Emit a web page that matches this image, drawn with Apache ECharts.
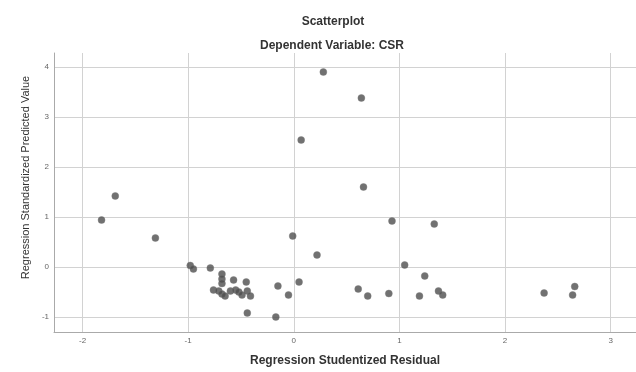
<!DOCTYPE html>
<html>
<head>
<meta charset="utf-8">
<script src="https://cdn.jsdelivr.net/npm/echarts@6/dist/echarts.min.js"></script>
<style>
  html, body { margin: 0; padding: 0; background: #fff; }
  #chart { width: 636px; height: 372px; }
</style>
</head>
<body>
<div id="chart"></div>
<script>
// Regression Studentized Residual (x) vs Standardized Predicted Value (y)
const residual = [
  -1.82, -1.69, -1.31, -0.98, -0.95, -0.79, -0.68, -0.68, -0.68, -0.57,
  -0.45, -0.76, -0.71, -0.68, -0.65, -0.60, -0.55, -0.52, -0.49, -0.44,
  -0.41, -0.44, -0.17, -0.15, -0.05, 0.05, -0.01, 0.07, 0.22, 0.28,
  0.64, 0.66, 0.93, 1.33, 1.05, 1.24, 0.61, 0.70, 0.90, 1.19,
  1.37, 1.41, 2.37, 2.64, 2.66
];
const predicted = [
  0.94, 1.42, 0.58, 0.03, -0.04, -0.02, -0.14, -0.24, -0.33, -0.26,
  -0.30, -0.46, -0.48, -0.54, -0.58, -0.48, -0.46, -0.50, -0.56, -0.48,
  -0.58, -0.92, -1.00, -0.38, -0.56, -0.30, 0.62, 2.54, 0.24, 3.90,
  3.38, 1.60, 0.92, 0.86, 0.04, -0.18, -0.44, -0.58, -0.53, -0.58,
  -0.48, -0.56, -0.52, -0.56, -0.39
];
const titleText = 'Scatterplot';
const subtitleText = 'Dependent Variable: CSR';
const xName = 'Regression Studentized Residual';
const yName = 'Regression Standardized Predicted Value';

const points = residual.map((r, i) => [r, predicted[i]]);

const chart = echarts.init(document.getElementById('chart'));
const gridLine = { show: true, showMaxLine: false, lineStyle: { color: '#d2d2d2', width: 1 } };
const tickLabel = { fontSize: 8, color: '#666', fontFamily: 'Liberation Sans' };
const titleStyle = { fontSize: 12, fontWeight: 'bold', color: '#333', fontFamily: 'Liberation Sans' };

chart.setOption({
  animation: false,
  title: [
    { text: titleText, left: 328, top: 11, textAlign: 'center', textStyle: titleStyle },
    { text: subtitleText, left: 327, top: 35, textAlign: 'center', textStyle: titleStyle }
  ],
  grid: { left: 54, right: 0, top: 53, bottom: 38 },
  xAxis: {
    type: 'value',
    min: -2.27, max: 3.24,
    splitNumber: 5,
    name: xName,
    nameLocation: 'middle',
    nameGap: 23,
    nameTextStyle: titleStyle,
    axisLine: { show: true, onZero: false, lineStyle: { color: '#aaa' } },
    axisTick: { show: false },
    axisLabel: Object.assign({ margin: 5, showMinLabel: false, showMaxLabel: false }, tickLabel),
    splitLine: gridLine
  },
  yAxis: {
    type: 'value',
    min: -1.3, max: 4.28,
    splitNumber: 5,
    name: yName,
    nameLocation: 'middle',
    nameGap: 21,
    nameTextStyle: { padding: [0, 0, 0, 30], fontSize: 11, color: '#333', fontFamily: 'Liberation Sans' },
    axisLine: { show: true, onZero: false, lineStyle: { color: '#aaa' } },
    axisTick: { show: false },
    axisLabel: Object.assign({ margin: 5, showMinLabel: false, showMaxLabel: false }, tickLabel),
    splitLine: gridLine
  },
  series: [{
    type: 'scatter',
    data: points,
    symbolSize: 7,
    itemStyle: { color: '#4d4d4d', borderColor: '#777', borderWidth: 0.5 }
  }]
});
</script>
</body>
</html>
